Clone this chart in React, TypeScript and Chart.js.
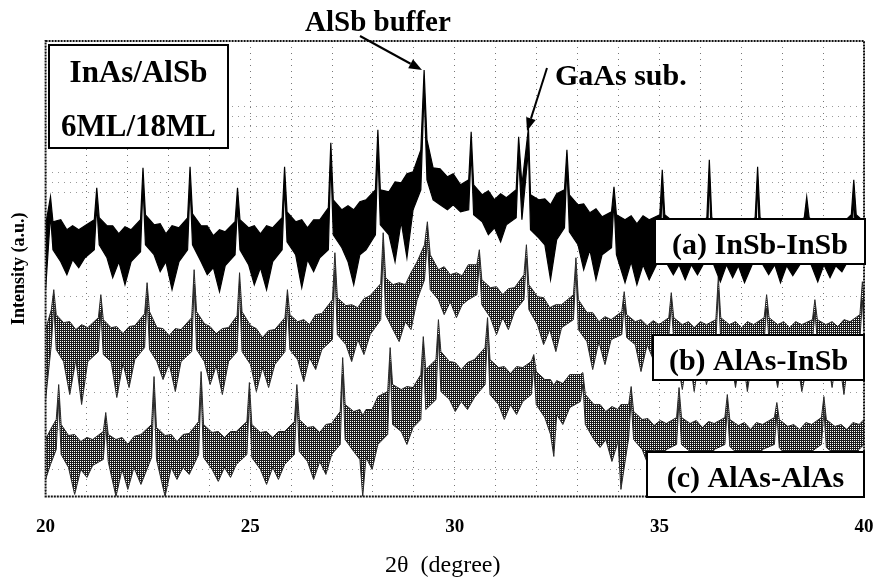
import React, { useEffect, useRef } from "react";
import { Chart, registerables } from "chart.js";

Chart.register(...registerables);

// ---------- data (2θ in degrees, intensity in arbitrary units) ----------
// (a) InSb-InSb : upper / lower envelope of the noisy trace
const xA = [
  20.0, 20.12, 20.18, 20.37, 20.52, 20.66, 20.81, 20.96, 21.19,
  21.25, 21.31, 21.5, 21.64, 21.79, 21.94, 22.09, 22.32,
  22.38, 22.44, 22.65, 22.8, 22.94, 23.09, 23.26, 23.47,
  23.53, 23.59, 23.8, 23.95, 24.1, 24.25, 24.39, 24.63,
  24.69, 24.75, 24.96, 25.1, 25.25, 25.4, 25.55, 25.78,
  25.84, 25.9, 26.11, 26.26, 26.4, 26.55, 26.7, 26.91,
  26.97, 27.03, 27.24, 27.39, 27.53, 27.68, 27.83, 28.06,
  28.12, 28.18, 28.39, 28.54, 28.69, 28.83, 28.98, 29.17,
  29.25, 29.32, 29.47, 29.64, 29.82, 29.96, 30.14, 30.34,
  30.4, 30.46, 30.67, 30.82, 30.97, 31.12, 31.26, 31.5,
  31.56, 31.64, 31.8, 31.85, 32.05, 32.2, 32.34, 32.49, 32.68,
  32.74, 32.8, 33.01, 33.15, 33.3, 33.45, 33.6, 33.83,
  33.89, 33.95, 34.16, 34.31, 34.45, 34.6, 34.75, 35.01,
  35.07, 35.13, 35.34, 35.48, 35.63, 35.78, 35.93, 36.16,
  36.22, 36.28, 36.49, 36.64, 36.79, 36.93, 37.08, 37.34,
  37.4, 37.46, 37.67, 37.82, 37.96, 38.11, 38.26, 38.54,
  38.6, 38.66, 38.87, 39.02, 39.17, 39.31, 39.46, 39.69,
  39.75, 39.81, 40.0,
];
const aUp = [
  272, 300, 275, 277, 267, 271, 267, 271, 277,
  309, 279, 271, 271, 263, 270, 267, 277,
  329, 282, 272, 273, 263, 271, 269, 279,
  330, 283, 271, 271, 261, 267, 265, 275,
  309, 277, 269, 271, 263, 271, 269, 279,
  330, 285, 275, 277, 269, 277, 277, 289,
  354, 297, 287, 291, 287, 295, 297, 307,
  367, 307, 305, 315, 314, 323, 325, 347,
  427, 357, 329, 328, 320, 323, 312, 317,
  365, 312, 302, 306, 297, 303, 299, 307,
  360, 312, 369, 302, 297, 298, 292, 303, 307,
  347, 302, 292, 293, 284, 288, 280, 285,
  310, 282, 277, 281, 273, 281, 277, 282,
  327, 282, 275, 278, 271, 277, 273, 279,
  337, 279, 273, 277, 271, 277, 273, 279,
  330, 279, 273, 277, 271, 277, 273, 279,
  300, 279, 273, 277, 271, 277, 273, 282,
  317, 282, 275,
];
const aLo = [
  207, 282, 247, 235, 222, 237, 229, 239, 247,
  292, 252, 239, 219, 235, 212, 235, 245,
  312, 252, 242, 225, 235, 207, 235, 247,
  312, 252, 235, 222, 229, 205, 231, 242,
  292, 247, 232, 212, 229, 207, 235, 247,
  312, 255, 242, 209, 237, 225, 239, 247,
  337, 262, 249, 235, 212, 242, 247, 262,
  347, 272, 262, 235, 275, 239, 287, 307,
  407, 317, 297, 292, 287, 292, 285, 287,
  347, 282, 275, 262, 269, 255, 272, 279,
  342, 277, 347, 267, 259, 252, 217, 257, 269,
  332, 265, 252, 227, 247, 217, 242, 249,
  297, 242, 214, 235, 212, 232, 217, 239,
  312, 237, 222, 232, 217, 232, 222, 239,
  322, 237, 215, 232, 219, 231, 214, 239,
  317, 237, 222, 232, 214, 231, 221, 239,
  287, 237, 215, 232, 219, 231, 225, 242,
  302, 242, 235,
];

// (b) AlAs-InSb
const xB = [
  20.0, 20.14, 20.2, 20.26, 20.44, 20.59, 20.74, 20.88, 21.03, 21.29,
  21.35, 21.41, 21.6, 21.74, 21.89, 22.04, 22.18, 22.42,
  22.48, 22.54, 22.72, 22.87, 23.02, 23.17, 23.31, 23.57,
  23.63, 23.69, 23.88, 24.02, 24.17, 24.32, 24.47, 24.68,
  24.74, 24.8, 25.01, 25.15, 25.3, 25.45, 25.6, 25.85,
  25.91, 25.97, 26.16, 26.31, 26.45, 26.6, 26.75, 27.01,
  27.07, 27.13, 27.34, 27.48, 27.63, 27.78, 27.93, 28.19,
  28.25, 28.31, 28.49, 28.64, 28.79, 28.93, 29.08, 29.26,
  29.33, 29.4, 29.6, 29.74, 29.89, 30.04, 30.18, 30.33, 30.54,
  30.6, 30.66, 30.87, 31.02, 31.17, 31.31, 31.46, 31.69,
  31.75, 31.81, 32.02, 32.17, 32.32, 32.47, 32.61, 32.9,
  32.96, 33.02, 33.23, 33.37, 33.52, 33.67, 33.82, 34.08,
  34.14, 34.2, 34.41, 34.55, 34.7, 34.85, 34.99, 35.23,
  35.29, 35.35, 35.56, 35.71, 35.85, 36.0, 36.15, 36.38,
  36.44, 36.5, 36.71, 36.86, 37.01, 37.15, 37.3, 37.56,
  37.62, 37.68, 37.89, 38.04, 38.18, 38.33, 38.48, 38.74,
  38.8, 38.86, 39.07, 39.22, 39.36, 39.51, 39.66, 39.9,
  39.96, 40.0,
];
const bUp = [
  167, 187, 207, 182, 174, 175, 167, 172, 169, 179,
  202, 177, 169, 170, 163, 170, 171, 183,
  214, 185, 169, 168, 161, 168, 167, 179,
  227, 185, 173, 170, 163, 168, 169, 181,
  224, 185, 171, 168, 159, 166, 167, 179,
  207, 182, 175, 177, 172, 182, 183, 197,
  244, 199, 191, 192, 189, 198, 201, 213,
  264, 219, 212, 214, 212, 224, 235, 252,
  275, 242, 227, 230, 222, 224, 221, 232, 232,
  247, 217, 209, 210, 202, 208, 209, 222,
  252, 212, 200, 199, 189, 192, 192, 202,
  239, 197, 184, 184, 175, 180, 177, 185,
  205, 182, 175, 177, 171, 176, 172, 179,
  204, 179, 172, 175, 169, 175, 172, 177,
  220, 179, 172, 175, 169, 175, 172, 179,
  202, 179, 172, 175, 169, 175, 172, 177,
  197, 177, 172, 175, 170, 177, 175, 182,
  215, 197,
];
const bLo = [
  97, 152, 192, 147, 135, 102, 137, 92, 135, 145,
  185, 142, 135, 99, 133, 109, 137, 149,
  199, 147, 135, 117, 133, 105, 135, 145,
  212, 147, 135, 112, 131, 102, 135, 145,
  209, 145, 132, 105, 129, 109, 132, 145,
  192, 147, 137, 115, 139, 127, 147, 157,
  227, 162, 152, 135, 157, 142, 162, 177,
  247, 182, 167, 155, 175, 167, 197, 217,
  257, 207, 197, 182, 195, 179, 192, 197, 202,
  235, 192, 179, 162, 179, 167, 185, 197,
  239, 187, 172, 152, 167, 145, 169, 177,
  227, 167, 155, 127, 155, 132, 157, 162,
  192, 159, 152, 125, 152, 137, 152, 159,
  192, 157, 107, 147, 105, 147, 112, 155,
  207, 155, 147, 109, 147, 105, 147, 155,
  189, 155, 109, 147, 117, 147, 105, 155,
  185, 155, 147, 109, 147, 102, 152, 157,
  197, 167,
];

// (c) AlAs-AlAs
const xC = [
  20.0, 20.12, 20.26,
  20.32, 20.38, 20.56, 20.71, 20.86, 21.01, 21.15, 21.41,
  21.47, 21.53, 21.72, 21.87, 22.01, 22.16, 22.33, 22.59,
  22.65, 22.71, 22.92, 23.07, 23.21, 23.36, 23.51, 23.74,
  23.8, 23.86, 24.07, 24.22, 24.37, 24.52, 24.66, 24.92,
  24.98, 25.04, 25.25, 25.4, 25.55, 25.69, 25.84, 26.08,
  26.14, 26.2, 26.4, 26.55, 26.7, 26.85, 26.99, 27.2,
  27.26, 27.32, 27.53, 27.68, 27.75, 27.83, 27.98, 28.12, 28.36,
  28.42, 28.48, 28.69, 28.83, 28.98, 29.17,
  29.23, 29.29, 29.54,
  29.6, 29.66, 29.87, 30.01, 30.16, 30.31, 30.48, 30.74,
  30.8, 30.86, 31.07, 31.21, 31.36, 31.51, 31.66, 31.87,
  31.93, 31.99, 32.2, 32.34, 32.42, 32.49, 32.64, 32.81, 33.07,
  33.13, 33.19, 33.4, 33.55, 33.69, 33.84, 33.99, 34.06, 34.25,
  34.31, 34.37, 34.58, 34.72, 34.87, 35.02, 35.17, 35.42,
  35.48, 35.54, 35.75, 35.9, 36.05, 36.2, 36.34, 36.6,
  36.66, 36.72, 36.93, 37.08, 37.23, 37.37, 37.52, 37.81,
  37.87, 37.93, 38.14, 38.28, 38.43, 38.58, 38.72, 38.96,
  39.02, 39.08, 39.29, 39.44, 39.58, 39.73, 39.88, 40.0,
];
const cUp = [
  57, 67, 77,
  112, 72, 61, 62, 55, 59, 57, 65,
  84, 62, 57, 59, 52, 60, 62, 72,
  120, 69, 61, 62, 55, 62, 63, 75,
  125, 72, 64, 65, 59, 65, 65, 75,
  114, 72, 64, 65, 59, 65, 65, 75,
  112, 77, 69, 70, 64, 72, 73, 85,
  139, 92, 85, 87, 81, 87, 87, 100, 105,
  149, 112, 107, 110, 109, 122,
  160, 127, 137,
  177, 145, 135, 134, 127, 134, 137, 149,
  179, 137, 129, 130, 123, 130, 129, 135,
  142, 125, 117, 117, 111, 116, 113, 122, 122,
  124, 102, 92, 92, 85, 90, 87, 92, 92,
  110, 85, 77, 78, 71, 76, 73, 79,
  109, 79, 73, 76, 69, 75, 73, 79,
  102, 77, 71, 74, 67, 74, 72, 79,
  94, 77, 70, 72, 67, 74, 72, 79,
  100, 77, 70, 72, 67, 74, 72, 77,
];
const cLo = [
  17, 32, 47,
  97, 42, 29, 2, 27, 19, 31, 37,
  72, 35, 0, 27, 7, 29, 12, 39,
  105, 37, 0, 29, 17, 29, 22, 42,
  109, 39, 27, 15, 29, 19, 32, 42,
  99, 39, 27, 12, 29, 17, 32, 42,
  97, 45, 35, 17, 35, 22, 42, 52,
  122, 57, 45, 37, 0, 39, 27, 52, 62,
  135, 72, 65, 52, 69, 77,
  147, 87, 97,
  162, 105, 97, 85, 95, 87, 99, 112,
  165, 102, 92, 77, 92, 82, 95, 102,
  129, 92, 79, 62, 40, 82, 72, 89, 95,
  112, 72, 57, 49, 57, 35, 55, 7, 59,
  97, 57, 47, 32, 47, 37, 47, 52,
  97, 52, 45, 35, 45, 32, 47, 52,
  89, 50, 42, 29, 42, 35, 47, 52,
  82, 49, 39, 27, 42, 32, 45, 52,
  87, 49, 42, 32, 42, 35, 47, 52,
];

// axis values
const xMin = 20;
const xMax = 40;
const xLabelEvery = 5;
const yMin = 0;
const yMax = 456;
const yGridValues = [390, 380, 370, 359, 324, 314, 304, 200, 104, 67, 27];

// texts
const sampleTitle = ["InAs/AlSb", "6ML/18ML"];
const traceLabels = ["(a) InSb-InSb", "(b) AlAs-InSb", "(c) AlAs-AlAs"];
const peakNotes = ["AlSb buffer", "GaAs sub."];
const xTitle = "2θ  (degree)    ";
const yTitle = "Intensity (a.u.)";

const toPoints = (xs: number[], ys: number[]) =>
  xs.slice(0, Math.min(xs.length, ys.length)).map((x, i) => ({ x, y: ys[i] }));

function makeStipple(dark: string): CanvasPattern | string {
  const c = document.createElement("canvas");
  c.width = 2;
  c.height = 2;
  const g = c.getContext("2d");
  if (!g) return dark;
  g.fillStyle = "#ffffff";
  g.fillRect(0, 0, 2, 2);
  g.fillStyle = dark;
  g.fillRect(0, 0, 2, 1);
  g.fillRect(1, 1, 1, 1);
  return g.createPattern(c, "repeat") || dark;
}

const SERIF = '"Liberation Serif", "Times New Roman", serif';

function arrow(ctx: CanvasRenderingContext2D, x1: number, y1: number, x2: number, y2: number) {
  const ang = Math.atan2(y2 - y1, x2 - x1);
  const len = 13;
  const hw = 5;
  const bx = x2 - len * Math.cos(ang);
  const by = y2 - len * Math.sin(ang);
  ctx.beginPath();
  ctx.moveTo(x1, y1);
  ctx.lineTo(bx, by);
  ctx.lineWidth = 2;
  ctx.strokeStyle = "#000";
  ctx.stroke();
  ctx.beginPath();
  ctx.moveTo(x2, y2);
  ctx.lineTo(bx + hw * Math.sin(ang), by - hw * Math.cos(ang));
  ctx.lineTo(bx - hw * Math.sin(ang), by + hw * Math.cos(ang));
  ctx.closePath();
  ctx.fillStyle = "#000";
  ctx.fill();
}

function labelBox(
  ctx: CanvasRenderingContext2D,
  x: number,
  y: number,
  w: number,
  h: number,
  lines: string[],
  baselines: number[],
  size: number
) {
  ctx.fillStyle = "#fff";
  ctx.fillRect(x, y, w, h);
  ctx.lineWidth = 2;
  ctx.strokeStyle = "#000";
  ctx.strokeRect(x, y, w, h);
  ctx.fillStyle = "#000";
  ctx.font = `bold ${size}px ${SERIF}`;
  ctx.textAlign = "center";
  ctx.textBaseline = "alphabetic";
  lines.forEach((t, i) => ctx.fillText(t, x + w / 2, baselines[i]));
}

const annotations = {
  id: "xrdAnnotations",
  afterDraw(chart: any) {
    const ctx: CanvasRenderingContext2D = chart.ctx;
    const a = chart.chartArea;
    ctx.save();
    // dotted plot frame
    ctx.setLineDash([2, 1]);
    ctx.lineWidth = 2;
    ctx.strokeStyle = "#111";
    ctx.strokeRect(a.left, a.top, a.right - a.left, a.bottom - a.top);
    ctx.setLineDash([]);

    // sample box
    labelBox(ctx, 49, 45, 179, 103, sampleTitle, [82, 136], 31);
    // trace labels
    labelBox(ctx, 655, 219, 210, 45, [traceLabels[0]], [254], 30);
    labelBox(ctx, 653, 335, 211, 45, [traceLabels[1]], [370], 30);
    labelBox(ctx, 647, 452, 217, 45, [traceLabels[2]], [487], 30);

    // peak notes
    ctx.fillStyle = "#000";
    ctx.textAlign = "left";
    ctx.textBaseline = "alphabetic";
    ctx.font = `bold 29px ${SERIF}`;
    ctx.fillText(peakNotes[0], 305, 31);
    ctx.font = `bold 30px ${SERIF}`;
    ctx.fillText(peakNotes[1], 555, 85);
    arrow(ctx, 360, 36, 422, 70);
    arrow(ctx, 547, 68, 527, 131);
    ctx.restore();
  },
};

export default function App() {
  const ref = useRef<HTMLCanvasElement>(null);

  useEffect(() => {
    if (!ref.current) return;
    const stippleB = makeStipple("#1c1c1c");
    const stippleC = makeStipple("#1c1c1c");
    const line = (data: any, color: string, width: number, extra: any = {}) => ({
      data,
      borderColor: color,
      borderWidth: width,
      pointRadius: 0,
      tension: 0,
      fill: false,
      ...extra,
    });
    const chart = new Chart(ref.current, {
      type: "line",
      data: {
        datasets: [
          line(toPoints(xA, aUp), "#000", 1.2),
          line(toPoints(xA, aLo), "#000", 1.2, { fill: "-1", backgroundColor: "#000" }),
          line(toPoints(xB, bUp), "#2a2a2a", 1),
          line(toPoints(xB, bLo), "#2a2a2a", 1, { fill: "-1", backgroundColor: stippleB }),
          line(toPoints(xC, cUp), "#2a2a2a", 1),
          line(toPoints(xC, cLo), "#2a2a2a", 1, { fill: "-1", backgroundColor: stippleC }),
        ] as any,
      },
      options: {
        animation: false,
        responsive: true,
        maintainAspectRatio: false,
        events: [],
        layout: { padding: { top: 41, right: 14, bottom: 7, left: 0 } },
        plugins: {
          legend: { display: false },
          tooltip: { enabled: false },
        },
        scales: {
          x: {
            type: "linear",
            min: xMin,
            max: xMax,
            ticks: {
              stepSize: 1,
              autoSkip: false,
              maxRotation: 0,
              padding: 0,
              color: "#000",
              font: { family: SERIF, weight: "bold", size: 19 },
              callback: (v: any) => (Number(v) % xLabelEvery === 0 ? String(v) : ""),
            },
            grid: {
              color: "#777",
              lineWidth: 1,
              drawTicks: true,
              tickLength: 19,
              tickColor: "rgba(0,0,0,0)",
            },
            border: { display: false, dash: [1, 5] },
            title: {
              display: true,
              text: xTitle,
              color: "#000",
              font: { family: SERIF, size: 24, weight: "normal" },
              padding: { top: 13, bottom: 0 },
            },
          },
          y: {
            min: yMin,
            max: yMax,
            afterBuildTicks: (scale: any) => {
              scale.ticks = yGridValues.map((v) => ({ value: v }));
            },
            ticks: { display: false },
            grid: { color: "#999", lineWidth: 1, drawTicks: false },
            border: { display: false, dash: [1, 5] },
            title: {
              display: true,
              text: yTitle,
              color: "#000",
              font: { family: SERIF, weight: "bold", size: 18 },
              padding: { top: 9, bottom: 15 },
            },
          },
        },
      } as any,
      plugins: [annotations],
    });
    return () => chart.destroy();
  }, []);

  return (
    <div style={{ position: "fixed", left: 0, top: 0, width: 878, height: 587, background: "#fff" }}>
      <canvas ref={ref} />
    </div>
  );
}
